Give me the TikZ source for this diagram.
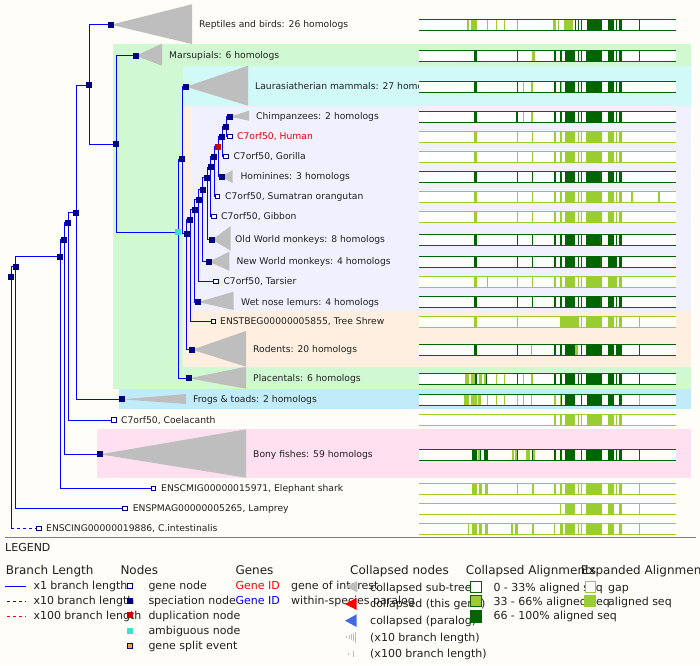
\documentclass[tikz,border=0pt]{standalone}
\usepackage{fontspec}
\setmainfont{DejaVu Sans}
\definecolor{bgc}{HTML}{FEFDF8}
\definecolor{bandG}{HTML}{D0F9D2}
\definecolor{bandC}{HTML}{D0F9F8}
\definecolor{bandP}{HTML}{FFEFE0}
\definecolor{bandL}{HTML}{F0F0FE}
\definecolor{bandB}{HTML}{C0ECFA}
\definecolor{bandK}{HTML}{FFE0F0}
\definecolor{brc}{HTML}{0000FF}
\definecolor{nav}{HTML}{000080}
\definecolor{dupc}{HTML}{CC0000}
\definecolor{ambc}{HTML}{40E0D0}
\definecolor{trig}{HTML}{BEBEBE}
\definecolor{dg}{HTML}{006400}
\definecolor{lg}{HTML}{9ACD32}
\definecolor{txt}{HTML}{202020}
\definecolor{royal}{HTML}{4169E1}
\definecolor{splitc}{HTML}{F0A050}
\newcommand{\alrow}[4]{%
  \fill[white] (419,#1-5.5) rectangle (675.7,#1+5.5);
  \foreach \a/\b in {#3} {\fill[dg] (\a,#1-5.5) rectangle (\b,#1+5.5);}
  \foreach \a/\b in {#4} {\fill[lg] (\a,#1-5.5) rectangle (\b,#1+5.5);}
  \draw[#2, line width=1pt] (419,#1-5.5) -- (675.7,#1-5.5) (419,#1+5.5) -- (675.7,#1+5.5);
}
\begin{document}
\begin{tikzpicture}[x=1pt,y=-1pt,
  br/.style={brc, line width=1pt},
  spec/.style={shape=rectangle, fill=nav, draw=none, minimum size=6pt, inner sep=0pt},
  dupn/.style={shape=rectangle, fill=dupc, draw=none, minimum size=6pt, inner sep=0pt},
  ambn/.style={shape=rectangle, fill=ambc, draw=none, minimum size=6pt, inner sep=0pt},
  genen/.style={shape=rectangle, fill=white, draw=nav, line width=1pt, minimum size=4.5pt, inner sep=0pt},
  lbl/.style={anchor=base west, inner sep=0pt, font=\fontsize{9.2}{11}\selectfont, text=txt},
  legh/.style={anchor=base west, inner sep=0pt, font=\fontsize{12}{14}\selectfont, text=txt},
  legi/.style={anchor=base west, inner sep=0pt, font=\fontsize{11}{13}\selectfont, text=txt}]
\useasboundingbox (0,0) rectangle (700,665);
\fill[bgc] (0,0) rectangle (700,665);
% bands
\fill[bandG] (113,43.7) rectangle (691,388.7);
\fill[bandC] (183,65.7) rectangle (691,105.7);
\fill[bandP] (183,105.7) rectangle (691,366.7);
\fill[bandL] (191,105.7) rectangle (691,311);
\fill[bandB] (119,388.7) rectangle (691,408.7);
\fill[bandK] (97,429.3) rectangle (691,477.7);
% node coordinates
\coordinate (R) at (11.3,276.7);
\coordinate (N15) at (15.5,266.7);
\coordinate (N60) at (60.3,256.7);
\coordinate (N64) at (64,239.7);
\coordinate (N68) at (68.3,222.7);
\coordinate (N76) at (76.3,212.7);
\coordinate (A) at (89.3,85);
\coordinate (B) at (116.3,144);
\coordinate (Cy) at (178.3,232.3);
\coordinate (C) at (182.3,159.3);
\coordinate (D) at (186.5,233.7);
\coordinate (E) at (190.3,219.7);
\coordinate (F) at (194.5,209.7);
\coordinate (G) at (198.5,199.7);
\coordinate (H) at (202.7,189.7);
\coordinate (I) at (207.3,177.7);
\coordinate (J) at (210.7,167);
\coordinate (K) at (214.3,156.7);
\coordinate (L) at (218.3,146.7);
\coordinate (M) at (222.3,136.7);
\coordinate (N) at (226.3,126.7);
\coordinate (Rep) at (111,24.7);
\coordinate (Mar) at (135.7,55.7);
\coordinate (Lau) at (186,86.7);
\coordinate (Chi) at (230,116.7);
\coordinate (Hum) at (230,136.7);
\coordinate (Gor) at (226,156.7);
\coordinate (Hom) at (221.7,176.7);
\coordinate (Sum) at (217.7,196.7);
\coordinate (Gib) at (214,216.7);
\coordinate (OWM) at (212.3,239.7);
\coordinate (NWM) at (209,261.7);
\coordinate (Tar) at (216,281.7);
\coordinate (WNL) at (198,302);
\coordinate (TSh) at (213.3,321.7);
\coordinate (Rod) at (192,349.7);
\coordinate (Pla) at (189,378.3);
\coordinate (Fro) at (122,399.3);
\coordinate (Coe) at (114,420);
\coordinate (Bon) at (100,454.3);
\coordinate (Esh) at (153.7,488.3);
\coordinate (Lam) at (125,508.3);
\coordinate (Cin) at (39,528.3);
% branches
\draw[br] (R) |- (N15);
\draw[br] (R) -- (R |- Cin);
\draw[br,dash pattern=on 3pt off 3pt] (R |- Cin) -- (Cin);
\draw[br] (N15) |- (N60);  \draw[br] (N15) |- (Lam);
\draw[br] (N60) |- (N64);  \draw[br] (N60) |- (Esh);
\draw[br] (N64) |- (N68);  \draw[br] (N64) |- (Bon);
\draw[br] (N68) |- (N76);  \draw[br] (N68) |- (Coe);
\draw[br] (N76) |- (A);    \draw[br] (N76) |- (Fro);
\draw[br] (A) |- (Rep);    \draw[br] (A) |- (B);
\draw[br] (B) |- (Mar);    \draw[br] (B) |- (Cy);
\draw[br] (Cy) |- (C);     \draw[br] (Cy) |- (Pla);
\draw[br] (C) |- (Lau);    \draw[br] (C) |- (D);
\draw[br] (D) |- (E);      \draw[br] (D) |- (Rod);
\draw[br] (E) |- (F);      \draw[br] (E) |- (TSh);
\draw[br] (F) |- (G);      \draw[br] (F) |- (WNL);
\draw[br] (G) |- (H);      \draw[br] (G) |- (Tar);
\draw[br] (H) |- (I);      \draw[br] (H) |- (NWM);
\draw[br] (I) |- (J);      \draw[br] (I) |- (OWM);
\draw[br] (J) |- (K);      \draw[br] (J) |- (Gib);
\draw[br] (K) |- (L);      \draw[br] (K) |- (Sum);
\draw[br] (L) |- (M);      \draw[br] (L) |- (Hom);
\draw[br] (M) |- (N);      \draw[br] (M) |- (Gor);
\draw[br] (N) |- (Chi);    \draw[br] (N) |- (Hum);
% collapsed triangles
\fill[trig] (Rep) -- (192,4.3) -- (192,44) -- cycle;
\fill[trig] (Mar) -- (162,43.7) -- (162,65.7) -- cycle;
\fill[trig] (Lau) -- (248,65.7) -- (248,105.7) -- cycle;
\fill[trig] (Chi) -- (249,110.7) -- (249,120.7) -- cycle;
\fill[trig] (Hom) -- (232.7,170) -- (232.7,183.3) -- cycle;
\fill[trig] (OWM) -- (230.7,226) -- (230.7,250.7) -- cycle;
\fill[trig] (NWM) -- (229.3,251.7) -- (229.3,270.7) -- cycle;
\fill[trig] (WNL) -- (233.7,291.7) -- (233.7,310) -- cycle;
\fill[trig] (Rod) -- (246,331) -- (246,366.7) -- cycle;
\fill[trig] (Pla) -- (246,366.7) -- (246,388.7) -- cycle;
\fill[trig] (Fro) -- (186,394) -- (186,404) -- cycle;
\fill[trig] (Bon) -- (246,429.3) -- (246,477.7) -- cycle;
% node marks
\foreach \n in {R,N15,N60,N64,N68,N76,A,B,C,D,E,F,G,H,I,J,K,M,N,Rep,Mar,Lau,Chi,Hom,OWM,NWM,WNL,Rod,Pla,Fro,Bon}
  {\node[spec] (s\n) at (\n) {};}
\node[dupn] (sL) at (L) {};
\node[ambn] (sCy) at (Cy) {};
\foreach \n in {Hum,Gor,Sum,Gib,Tar,TSh,Coe,Esh,Lam,Cin}
  {\node[genen] (s\n) at (\n) {};}
% labels
\node[lbl] (tRep) at (199,27.9) {Reptiles and birds: 26 homologs};
\node[lbl] (tMar) at (169,58.9) {Marsupials: 6 homologs};
\node[lbl] (tLau) at (255,89.9) {Laurasiatherian mammals: 27 homologs};
\node[lbl] (tChi) at (256,119.9) {Chimpanzees: 2 homologs};
\node[lbl,text=red!90!black] (tHum) at (237,139.9) {C7orf50, Human};
\node[lbl] (tGor) at (233.3,159.9) {C7orf50, Gorilla};
\node[lbl] (tHom) at (240.3,179.9) {Hominines: 3 homologs};
\node[lbl] (tSum) at (225,199.9) {C7orf50, Sumatran orangutan};
\node[lbl] (tGib) at (221,219.9) {C7orf50, Gibbon};
\node[lbl] (tOWM) at (235,242.9) {Old World monkeys: 8 homologs};
\node[lbl] (tNWM) at (236.3,264.9) {New World monkeys: 4 homologs};
\node[lbl] (tTar) at (223.3,284.9) {C7orf50, Tarsier};
\node[lbl] (tWNL) at (241,305.2) {Wet nose lemurs: 4 homologs};
\node[lbl] (tTSh) at (220,324.9) {ENSTBEG00000005855, Tree Shrew};
\node[lbl] (tRod) at (253,352.9) {Rodents: 20 homologs};
\node[lbl] (tPla) at (253,381.5) {Placentals: 6 homologs};
\node[lbl] (tFro) at (193,402.5) {Frogs \& toads: 2 homologs};
\node[lbl] (tCoe) at (121,423.2) {C7orf50, Coelacanth};
\node[lbl] (tBon) at (253,457.5) {Bony fishes: 59 homologs};
\node[lbl] (tEsh) at (161,491.5) {ENSCMIG00000015971, Elephant shark};
\node[lbl] (tLam) at (132.7,511.5) {ENSPMAG00000005265, Lamprey};
\node[lbl] (tCin) at (46,531.5) {ENSCING00000019886, C.intestinalis};
% alignment bars
\alrow{24.8}{dg}{574.7/576, 577.7/579, 580.7/582, 586.7/601.7, 608/613.7, 615.7/617, 619/622.3, 639/640}{467/469, 471/477, 487/488, 496/497, 504/505, 517/518, 553/555.7, 558.3/559.3, 564/573}
\alrow{55.7}{dg}{474/477, 517/518, 554/555.7, 560.3/561.7, 565/574.7, 577.7/579, 580.7/582, 586/601.7, 608/613.7, 615.7/617, 619/622.3, 639/640}{532.3/535}
\alrow{86.7}{dg}{474/477, 517/518, 554/555.7, 560/561, 565/574.7, 577.7/579, 580.7/582, 586/601.7, 608/613.7, 615.7/617, 619/622.3}{523/524, 531.3/533, 561/562.3}
\alrow{116.8}{dg}{474/477, 516.3/517.7, 554/555.7, 560.3/561.7, 565/574.7, 577.7/579, 580.7/582, 586/601.7, 608/613.7, 615.7/617, 619/622.3}{523/524, 531.3/533}
\alrow{136.8}{lg}{600/600}{474/477, 517/518, 532/533, 554/555.7, 560.3/561.7, 565/574.7, 577.7/579, 580.7/582, 586/601.7, 608/613.7, 615.7/617, 619/622.3}
\alrow{156.8}{lg}{600/600}{474/477, 517/518, 532/533, 554/555.7, 560.3/561.7, 565/574.7, 577.7/579, 580.7/582, 586/601.7, 608/613.7, 615.7/617, 619/622.3}
\alrow{176.8}{dg}{474/477, 517/518, 532/533, 554/555.7, 560.3/561.7, 565/574.7, 577.7/579, 580.7/582, 586/601.7, 608/613.7, 615.7/617, 619/622.3}{600/600}
\alrow{196.8}{lg}{600/600}{474/477, 517/518, 532/533, 554/555.7, 560.3/561.7, 565/574.7, 577.7/579, 580.7/582, 586/601.7, 608/613.7, 615.7/617, 619/622.3, 631/632.7, 658.3/660}
\alrow{216.8}{lg}{600/600}{474/477, 517/518, 532/533, 554/555.7, 560.3/561.7, 565/574.7, 577.7/579, 580.7/582, 586/601.7, 608/613.7, 615.7/617, 619/622.3}
\alrow{239.8}{dg}{474/477, 517/518, 532/533, 554/555.7, 560.3/561.7, 565/574.7, 577.7/579, 580.7/582, 586/601.7, 608/613.7, 615.7/617, 619/622.3}{600/600}
\alrow{261.8}{dg}{474/477, 517/518, 532/533, 554/555.7, 560.3/561.7, 565/574.7, 577.7/579, 580.7/582, 586/601.7, 608/617, 619/622.3}{600/600}
\alrow{281.7}{lg}{600/600}{474/477, 487/488, 517/518, 532/533, 554/555.7, 560.3/561.7, 565/574.7, 577.7/579, 580.7/582, 586/601.7, 608/617, 619/622.3}
\alrow{302}{dg}{474/477, 517/518, 532/533, 554/555.7, 560.3/561.7, 565/574.7, 577.7/579, 580.7/582, 586/601.7, 608/613.7, 615.7/617, 619/622.3}{600/600}
\alrow{321.7}{lg}{600/600}{474/477, 517/518, 560/579.3, 580.7/582, 586/601.7, 608/613.7, 615.7/617, 619/622.3, 639/640}
\alrow{349.8}{dg}{474/477, 517/518, 554/555.7, 560.3/561.7, 565/574.7, 580.7/582, 586/601.7, 608/613.7, 616/622.3, 639/640}{531/532, 574.7/577.7}
\alrow{378.8}{dg}{475/477, 486/487.3, 517/518, 554/555.7, 560.3/561.7, 565/574.7, 577.7/579, 580.7/582, 586/601.7, 608/613.7, 615.7/617, 619/622.3, 639/640}{465/469, 471/475, 479/482, 484/486, 496/497, 504/505, 523/524, 531/532.7}
\alrow{399.8}{dg}{561/562.3, 565/574.7, 580.7/582, 587/601.7, 608/613.7, 619/622.3}{464/469, 471/477, 478.3/481, 487/488, 496/497, 504/505, 517/518, 523/524, 531/532, 554/555.7, 560/561, 639/640}
\alrow{419.7}{lg}{600/600}{554/555.7, 560.3/561.7, 565/574.7, 577.7/579, 580.7/582, 587/601.7, 608/613.7, 615.7/617, 619/622.3}
\alrow{454.5}{dg}{472/477, 479.5/481, 484/488, 517/518, 532/533, 554/555.7, 560.3/561.7, 565/574.7, 580.7/582, 586/601.7, 608/613.7, 615.7/617, 619/622.3, 639/640}{478/479.5, 512.3/513.7, 514.5/517, 526/530, 533/535}
\alrow{488.8}{lg}{600/600}{472/477, 479/482, 485/488, 517/518, 532/534, 554/555.7, 560.3/561.7, 565/574.7, 577.7/579, 580.7/582, 586/601.7, 608/613.7, 615.7/617, 619/622.3, 639/640}
\alrow{508.8}{lg}{600/600}{560/561, 565/574.7, 580.7/582, 586/601.7, 608/613.7, 619/622.3, 639/640}
\alrow{528.8}{lg}{600/600}{468/469, 472/477, 479/482, 485/488, 511/513.3, 515/518, 532/534, 554/555.3, 560/563, 565/574.7, 577.7/579, 580.7/582, 586/601.7, 608/613.7, 619/622.3, 639/640}
% separator
\draw[gray, line width=1pt] (5,537.7) -- (696,537.7);
% legend
\node[legi] (lgT) at (5,551.7) {LEGEND};
\node[legh] (hBL) at (5.7,574.3) {Branch Length};
\node[legh] (hNo) at (120.3,574.3) {Nodes};
\node[legh] (hGe) at (235.3,574.3) {Genes};
\node[legh] (hCN) at (350,574.3) {Collapsed nodes};
\node[legh] (hCA) at (465.7,574.3) {Collapsed Alignments};
\node[legh] (hEA) at (580.7,574.3) {Expanded Alignments};
% branch length
\coordinate (bl1a) at (5,586); \coordinate (bl1b) at (26,586);
\coordinate (bl2a) at (5,601); \coordinate (bl2b) at (26,601);
\coordinate (bl3a) at (5,616); \coordinate (bl3b) at (26,616);
\draw[br] (bl1a) -- (bl1b);
\draw[br, dash pattern=on 3pt off 3pt] ([xshift=2pt]bl2a) -- (bl2b);
\draw[red, line width=1pt, dash pattern=on 3pt off 3pt] ([xshift=2pt]bl3a) -- (bl3b);
\node[legi] (lb1) at (33.3,589.3) {x1 branch length};
\node[legi] (lb2) at (33.3,604.3) {x10 branch length};
\node[legi] (lb3) at (33.3,619.3) {x100 branch length};
% nodes
\node[genen] (ln1) at (130.2,586.2) {};
\node[spec] (ln2) at (130.2,600.7) {};
\node[dupn] (ln3) at (130.2,615.3) {};
\node[ambn] (ln4) at (130.2,631) {};
\node[genen, fill=splitc] (ln5) at (130.2,646.2) {};
\node[legi] (lt1) at (148.3,589.3) {gene node};
\node[legi] (lt2) at (148.3,604.3) {speciation node};
\node[legi] (lt3) at (148.3,619.3) {duplication node};
\node[legi] (lt4) at (148.3,634.3) {ambiguous node};
\node[legi] (lt5) at (148.3,649.3) {gene split event};
% genes
\node[legi, text=red] (lg1) at (235.3,589.3) {Gene ID};
\node[legi, text=blue] (lg2) at (235.3,604.3) {Gene ID};
\node[legi] (lg3) at (291,589.3) {gene of interest};
\node[legi] (lg4) at (291,604.3) {within-species paralog};
% collapsed nodes
\fill[trig] (346,586.7) -- (357.3,581) -- (357.3,592.3) -- cycle;
\fill[red] (345,604) -- (356.7,597.7) -- (356.7,610) -- cycle;
\fill[royal] (345,620.7) -- (356.7,614.3) -- (356.7,627) -- cycle;
\foreach \x/\h in {346.7/2, 349/4, 351.3/6, 353.3/8, 355.3/11}
  {\draw[trig, line width=0.8pt] (\x,637.3-\h/2) -- (\x,637.3+\h/2);}
\foreach \x/\h in {348.3/2, 353.3/6}
  {\draw[trig, line width=0.8pt] (\x,654-\h/2) -- (\x,654+\h/2);}
\node[legi] (lc1) at (370,591) {collapsed sub-tree};
\node[legi] (lc2) at (370,607.7) {collapsed (this gene)};
\node[legi] (lc3) at (370,624.3) {collapsed (paralog)};
\node[legi] (lc4) at (370,641) {(x10 branch length)};
\node[legi] (lc5) at (370,657.7) {(x100 branch length)};
% collapsed alignments
\filldraw[fill=white, draw=dg, line width=1pt] (470,581.5) rectangle (481.3,592);
\filldraw[fill=lg, draw=dg, line width=1pt] (470,595.5) rectangle (481.3,606.3);
\fill[dg] (469.5,610) rectangle (481.8,622.5);
\node[legi] (la1) at (493.3,591) {0 - 33\% aligned seq};
\node[legi] (la2) at (493.3,605) {33 - 66\% aligned seq};
\node[legi] (la3) at (493.3,619.3) {66 - 100\% aligned seq};
% expanded alignments
\filldraw[fill=white, draw=lg, line width=1pt] (585,581.5) rectangle (595.5,592);
\fill[lg] (584.3,595) rectangle (596,606.7);
\node[legi] (le1) at (608,591) {gap};
\node[legi] (le2) at (608,605) {aligned seq};
\end{tikzpicture}
\end{document}
